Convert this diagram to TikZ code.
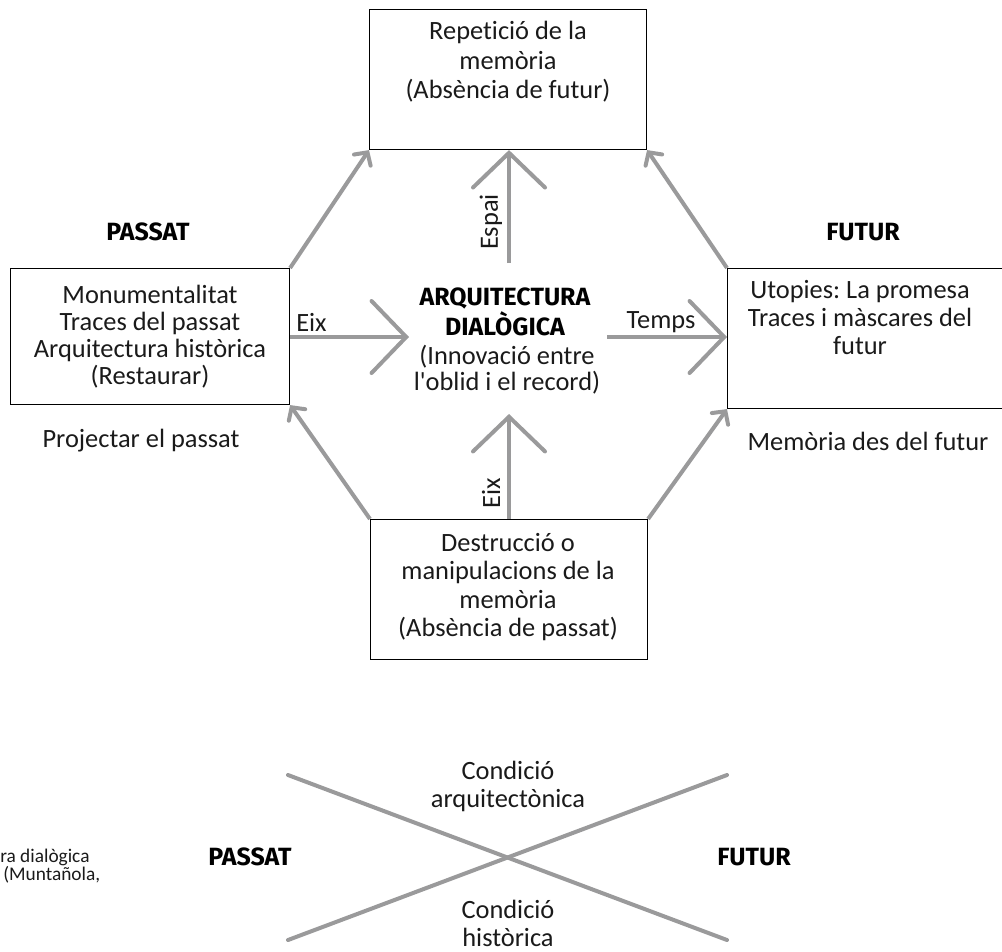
\documentclass[tikz,border=0pt]{standalone}
\usepackage{fontspec}
\setmainfont{Carlito}[Ligatures={NoCommon}]
\newfontfamily\headfont{Fira Sans}
\usetikzlibrary{arrows.meta}
\frenchspacing
\definecolor{arrgray}{HTML}{9A9A9B}
\definecolor{txt}{HTML}{1A1A1A}
\tikzset{
  boxst/.style={draw=black, line width=0.8pt, minimum width=277*0.75pt, minimum height=140*0.75pt, inner sep=0pt},
  bodytxt/.style={text=txt, align=center, font=\fontsize{19.8}{21}\selectfont, inner sep=0pt},
  headtxt/.style={text=black, align=center, font=\headfont\bfseries\fontsize{18.7}{22.5}\selectfont, inner sep=0pt},
  captxt/.style={text=txt, font=\fontsize{14.5}{16}\selectfont, anchor=west, inner sep=0pt},
  bigarrow/.style={draw=arrgray, line width=3pt, -{Straight Barb[length=26pt,width=54pt,line cap=round]}},
  smallarrow/.style={draw=arrgray, line width=3pt, -{Straight Barb[length=7pt,width=15pt,line cap=round]}},
  xline/.style={draw=arrgray, line width=3pt, line cap=round}
}
\begin{document}
\begin{tikzpicture}[x=0.75pt,y=-0.75pt]
\useasboundingbox (0,0) rectangle (1002,951);
\begin{scope}
\clip (0,0) rectangle (1002,951);
% boxes
\node[boxst, anchor=north west] (top) at (369,9) {};
\node[boxst, anchor=north west, minimum width=279*0.75pt, minimum height=136*0.75pt] (left) at (10,268) {};
\node[boxst, anchor=north west, minimum width=300*0.75pt] (right) at (727,268) {};
\node[boxst, anchor=north west] (bottom) at (370,519) {};
% box texts
\node[bodytxt, font=\fontsize{19.8}{22.1}\selectfont] (toptxt) at (508,62) {Repetició de la\\memòria\\(Absència de futur)};
\node[bodytxt, font=\fontsize{19.8}{20.25}\selectfont] (lefttxt) at (150,337) {Monumentalitat\\Traces del passat\\Arquitectura històrica\\(Restaurar)};
\node[bodytxt] (righttxt) at (860,318) {Utopies: La promesa\\Traces i màscares del\\futur};
\node[bodytxt, font=\fontsize{19.8}{21.4}\selectfont] (bottomtxt) at (508,587) {Destrucció o\\manipulacions de la\\memòria\\(Absència de passat)};
% headings
\node[headtxt] (passat) at (148,232) {PASSAT};
\node[headtxt] (futur) at (863,232) {FUTUR};
\node[bodytxt] (proj) at (141,441) {Projectar el passat};
\node[bodytxt] (memo) at (868,441) {Memòria des del futur};
% centre
\node[headtxt] (centre) at (505,312) {ARQUITECTURA\\DIALÒGICA};
\node[bodytxt, font=\fontsize{19.8}{19.5}\selectfont] (centre2) at (507,370) {(Innovació entre\\l\textquotesingle oblid i el record)};
% centre arrows
\coordinate (ctop) at (509,263);
\coordinate (cbot) at (509,519);
\coordinate (cleft) at (409,337);
\coordinate (cright) at (607,337);
\draw[bigarrow] (ctop) -- (top.south -| ctop);
\draw[bigarrow] (bottom.north -| cbot) -- (509,414) coordinate (cbottip);
\draw[bigarrow] (left.east |- cleft) -- (cleft);
\draw[bigarrow] (cright) -- (right.west |- cright);
\node[bodytxt, rotate=90] (espai) at (491,222) {Espai};
\node[bodytxt, rotate=90] (eixv) at (491,493) {Eix};
\node[bodytxt, anchor=west] (eixh) at (296,322) {Eix};
\node[bodytxt] (temps) at (661,322) {Temps};
% diagonal arrows
\draw[smallarrow] (left.north east) -- (top.south west);
\draw[smallarrow] (right.north west) -- (top.south east);
\draw[smallarrow] (bottom.north west) -- (left.south east);
\draw[smallarrow] (bottom.north east) -- (right.south west);
% bottom cross
\coordinate (xa) at (288,775);
\coordinate (xb) at (727,940);
\coordinate (xc) at (288,940);
\coordinate (xd) at (727,775);
\draw[xline] (xa) -- (xb);
\draw[xline] (xc) -- (xd);
\node[bodytxt] (carq) at (508,786) {Condició\\arquitectònica};
\node[bodytxt] (chis) at (508,923) {Condició\\històrica};
\node[headtxt] (passat2) at (250,857) {PASSAT};
\node[headtxt] (futur2) at (754,857) {FUTUR};
\node[captxt] (cap1) at (0,857) {ra dialògica};
\node[captxt] (cap2) at (3,875) {(Muntañola,};
\end{scope}
\end{tikzpicture}
\end{document}
